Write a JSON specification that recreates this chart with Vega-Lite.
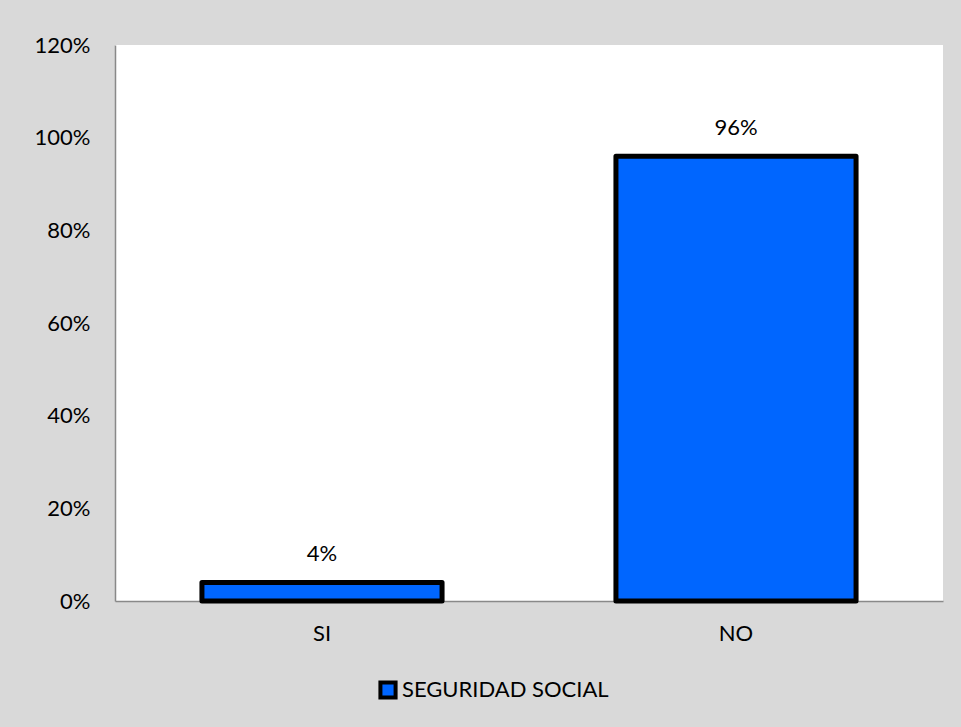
{
  "$schema": "https://vega.github.io/schema/vega-lite/v6.json",
  "width": 828,
  "height": 556,
  "autosize": {"type": "none"},
  "padding": {"left": 115, "top": 45, "right": 18, "bottom": 126},
  "background": "#d9d9d9",
  "config": {
    "view": {"fill": "white", "stroke": null},
    "font": "Lato"
  },
  "data": {
    "values": [
      {"categoria": "SI", "valor": 0.04, "serie": "SEGURIDAD SOCIAL"},
      {"categoria": "NO", "valor": 0.96, "serie": "SEGURIDAD SOCIAL"}
    ]
  },
  "encoding": {
    "x": {
      "field": "categoria",
      "type": "nominal",
      "sort": ["SI", "NO"],
      "scale": {"paddingInner": 0.42, "paddingOuter": 0.21},
      "axis": {
        "title": null,
        "labelAngle": 0,
        "labelFontSize": 22,
        "labelColor": "#000000",
        "labelPadding": 22,
        "ticks": false,
        "domainColor": "#898989",
        "domainWidth": 1.5
      }
    },
    "y": {
      "field": "valor",
      "type": "quantitative",
      "scale": {"domain": [0, 1.2], "nice": false},
      "axis": {
        "title": null,
        "format": ".0%",
        "values": [0, 0.2, 0.4, 0.6, 0.8, 1.0, 1.2],
        "grid": false,
        "ticks": false,
        "labelFontSize": 22,
        "labelColor": "#000000",
        "labelPadding": 25,
        "domainColor": "#898989",
        "domainWidth": 1.5
      }
    }
  },
  "layer": [
    {
      "mark": {"type": "bar", "stroke": "black", "strokeWidth": 5, "strokeJoin": "round"},
      "encoding": {
        "color": {
          "field": "serie",
          "type": "nominal",
          "scale": {"range": ["#0066ff"]},
          "legend": {
            "title": null,
            "orient": "none",
            "legendX": 262,
            "legendY": 634,
            "symbolType": "square",
            "symbolSize": 230,
            "symbolStrokeColor": "black",
            "symbolStrokeWidth": 4,
            "symbolFillColor": "#0066ff",
            "labelFontSize": 22,
            "labelLimit": 0,
            "labelColor": "#000000",
            "labelOffset": 3
          }
        }
      }
    },
    {
      "mark": {"type": "text", "baseline": "bottom", "dy": -16, "fontSize": 22, "color": "#000000"},
      "encoding": {
        "text": {"field": "valor", "type": "quantitative", "format": ".0%"}
      }
    }
  ]
}
